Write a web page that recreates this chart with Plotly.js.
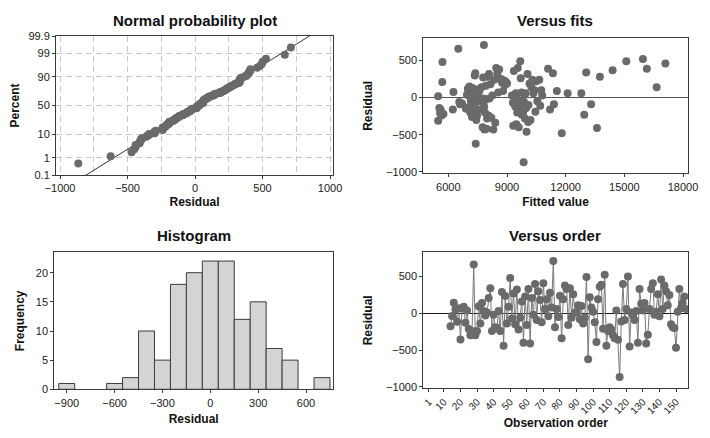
<!DOCTYPE html>
<html><head><meta charset="utf-8">
<script src="https://cdn.plot.ly/plotly-3.0.1.min.js"></script>
<style>html,body{margin:0;padding:0;background:#fff}#chart{width:710px;height:438px}</style>
</head><body><div id="chart"></div>
<script>
// ---- data ----
const firstObservation = 14;
const residuals = [-175,-35,145,55,-115,70,-355,65,90,-130,40,-215,-300,-240,665,-300,-240,95,-140,140,
30,-30,10,210,340,-240,-20,-190,-200,30,-240,290,-440,235,-140,90,480,-70,270,-150,
325,-220,-60,160,-400,230,-160,330,-410,210,-20,400,-90,300,180,-120,410,60,190,-40,
280,80,710,-190,60,-50,240,-340,190,380,330,-160,340,-60,260,10,10,110,-80,100,
-140,-60,495,-625,220,80,20,-120,-390,190,360,390,-210,525,-440,-240,-190,-220,-300,-340,
40,-360,-865,-110,400,-90,60,500,-450,10,-30,-90,30,-400,330,130,40,140,-410,-290,
60,330,410,-20,20,260,-40,460,60,380,300,110,250,-150,-190,-200,-470,20,330,70,
140,230,60];

const fittedValues = [5480,5540,5580,5620,5480,5650,5700,5690,5750,5600,
6230,6260,6510,6560,6600,6700,
6900,6950,7000,7020,7050,7080,7100,7120,7140,7150,7200,7210,7230,7250,7300,7310,7330,7350,7360,7380,7390,7400,7410,7430,7450,7470,7500,7550,7580,
7650,7700,7750,7780,7800,7820,7830,7850,7870,7900,7920,7950,7980,8000,8050,8080,8100,8150,8200,8250,8300,8350,8400,8450,8500,8550,8600,8700,8750,8800,8850,8900,8950,9000,
9250,9300,9320,9350,9400,9420,9450,9480,9500,9520,9550,9580,9600,9650,9680,9700,9720,9740,9760,9780,9820,9850,9870,9900,9920,9950,9980,10000,10050,10080,10100,10150,10200,10250,10300,10350,10400,10450,10500,10550,10650,10700,10750,10800,
11100,11200,11350,11400,11550,11800,12100,12800,13050,12950,13300,13600,13750,14400,15100,15950,16150,16650,17100];
const fitResiduals = [20,-140,-210,-190,-310,-240,480,210,-220,-160,
-160,75,660,-60,-90,-80,
-150,40,120,-130,80,150,20,-200,100,-40,10,-260,130,-10,-180,70,-100,300,-220,330,20,-620,-60,-300,110,-240,40,-160,90,
-50,140,-400,270,-10,710,-120,-430,-200,-30,160,-420,-280,280,-240,320,-10,180,-270,30,-430,240,-340,400,320,70,380,250,200,90,230,170,210,190,
30,-70,-380,360,-40,-120,60,-360,-10,-200,400,-90,-400,-150,490,260,-50,70,-230,-120,-200,-870,-60,40,-280,60,-140,-460,320,-330,-100,190,-300,140,240,60,100,-190,220,-50,240,-110,100,30,
390,-160,330,-90,90,-480,60,60,340,-230,-90,-410,280,370,490,520,390,140,460];

const histBinCenters = [-900,-600,-500,-400,-300,-200,-100,0,100,200,300,400,500,700];
const histCounts     = [1,1,2,10,5,18,20,22,22,12,15,7,5,2];

const percentTicks = [0.1,1,10,50,90,99,99.9];
const orderTicks = [1,10,20,30,40,50,60,70,80,90,100,110,120,130,140,150];

// ---- helpers ----
function invNorm(p){
  const a=[-3.969683028665376e+01,2.209460984245205e+02,-2.759285104469687e+02,1.383577518672690e+02,-3.066479806614716e+01,2.506628277459239e+00];
  const b=[-5.447609879822406e+01,1.615858368580409e+02,-1.556989798598866e+02,6.680131188771972e+01,-1.328068155288572e+01];
  const c=[-7.784894002430293e-03,-3.223964580411365e-01,-2.400758277161838e+00,-2.549671039857490e+00,4.374664141464968e+00,2.938163982698783e+00];
  const d=[7.784695709041462e-03,3.224671290700398e-01,2.445134137142996e+00,3.754408661907416e+00];
  const pl=0.02425, ph=1-pl; let q,r;
  if(p<pl){q=Math.sqrt(-2*Math.log(p));return (((((c[0]*q+c[1])*q+c[2])*q+c[3])*q+c[4])*q+c[5])/((((d[0]*q+d[1])*q+d[2])*q+d[3])*q+1);}
  if(p<=ph){q=p-0.5;r=q*q;return (((((a[0]*r+a[1])*r+a[2])*r+a[3])*r+a[4])*r+a[5])*q/(((((b[0]*r+b[1])*r+b[2])*r+b[3])*r+b[4])*r+1);}
  q=Math.sqrt(-2*Math.log(1-p));return -(((((c[0]*q+c[1])*q+c[2])*q+c[3])*q+c[4])*q+c[5])/((((d[0]*q+d[1])*q+d[2])*q+d[3])*q+1);
}

const n = residuals.length;
const sorted = residuals.slice().sort((u,v)=>u-v);
const normScores = sorted.map((_,i)=>invNorm((i+1-0.3)/(n+0.4)));
const mean = residuals.reduce((s,v)=>s+v,0)/n;
const sd = Math.sqrt(residuals.reduce((s,v)=>s+(v-mean)*(v-mean),0)/(n-1));
const zLo = invNorm(0.001), zHi = invNorm(0.999);
const lineZ = [zLo-0.5, zHi+0.5];
const lineX = lineZ.map(z=>mean+sd*z);
const observation = residuals.map((_,i)=>firstObservation+i);

// ---- styling ----
const FONT = 'Liberation Sans, Arial, sans-serif';
const tickFont = {family:FONT, size:11, color:'#1a1a1a'};
const axTitleFont = {family:FONT, size:12, color:'#111', weight:'bold'};
const ptColor = '#6a6a6a';
function ax(extra){
  return Object.assign({showline:true, mirror:true, linecolor:'#3a3a3a', linewidth:1,
    ticks:'outside', ticklen:3, tickcolor:'#3a3a3a', tickfont:tickFont,
    showgrid:false, zeroline:false, fixedrange:true}, extra);
}
const W=710, H=438;
const dx=(a,b)=>[a/W,b/W];
const dy=(top,bottom)=>[1-bottom/H,1-top/H];

const traces = [
  {type:'scatter', mode:'lines', x:lineX, y:lineZ, xaxis:'x', yaxis:'y',
   line:{color:'#333', width:1}, hoverinfo:'skip'},
  {type:'scatter', mode:'markers', x:sorted, y:normScores, xaxis:'x', yaxis:'y',
   marker:{color:ptColor, size:8}},
  {type:'scatter', mode:'markers', x:fittedValues, y:fitResiduals, xaxis:'x2', yaxis:'y2',
   marker:{color:ptColor, size:8}},
  {type:'bar', x:histBinCenters, y:histCounts, width:100, xaxis:'x3', yaxis:'y3',
   marker:{color:'#d4d4d4', line:{color:'#3c3c3c', width:1}}},
  {type:'scatter', mode:'lines+markers', x:observation, y:residuals, xaxis:'x4', yaxis:'y4',
   line:{color:'#7a7a7a', width:1}, marker:{color:ptColor, size:8}}
];

const layout = {
  width:W, height:H, margin:{l:0,r:0,t:0,b:0}, showlegend:false,
  paper_bgcolor:'#fff', plot_bgcolor:'#fff', font:{family:FONT},
  xaxis: ax({domain:dx(56,333), anchor:'y', range:[-1030,1022], tickmode:'linear', tick0:0, dtick:500,
    showgrid:true, gridcolor:'#c9c9c9', griddash:'6px,4px',
    minor:{tick0:0, dtick:250, showgrid:true, gridcolor:'#c9c9c9', griddash:'6px,4px', ticks:''},
    title:{text:'Residual', font:axTitleFont, standoff:4}}),
  yaxis: ax({domain:dy(36,175), anchor:'x', range:[zLo,zHi],
    tickmode:'array', tickvals:percentTicks.map(p=>invNorm(p/100)), ticktext:percentTicks.map(String),
    showgrid:true, gridcolor:'#c9c9c9', griddash:'6px,4px',
    title:{text:'Percent', font:axTitleFont, standoff:6}}),
  xaxis2: ax({domain:dx(423.3,687.7), anchor:'y2', range:[4720,18240], tickmode:'linear', tick0:0, dtick:3000,
    tickformat:'d', title:{text:'Fitted value', font:axTitleFont, standoff:6}}),
  yaxis2: ax({domain:dy(38.3,173.3), anchor:'x2', range:[-1020,800], tickmode:'linear', tick0:0, dtick:500,
    zeroline:true, zerolinecolor:'#555', zerolinewidth:1.5,
    title:{text:'Residual', font:axTitleFont, standoff:10}}),
  xaxis3: ax({domain:dx(54.3,333), anchor:'y3', range:[-978,769], tickmode:'linear', tick0:0, dtick:300,
    title:{text:'Residual', font:axTitleFont, standoff:7}}),
  yaxis3: ax({domain:dy(252.3,389.3), anchor:'x3', range:[0,23.5], tickmode:'linear', tick0:0, dtick:5,
    title:{text:'Frequency', font:axTitleFont, standoff:8}}),
  xaxis4: ax({domain:dx(423.3,688.3), anchor:'y4', range:[-2.4,157.4], tickmode:'array', tickvals:orderTicks,
    tickangle:-45, tickfont:{family:FONT, size:10, color:'#1a1a1a'},
    title:{text:'Observation order', font:axTitleFont, standoff:3}}),
  yaxis4: ax({domain:dy(252.3,388.3), anchor:'x4', range:[-1020,830], tickmode:'linear', tick0:0, dtick:500,
    zeroline:true, zerolinecolor:'#1a1a1a', zerolinewidth:1.5,
    title:{text:'Residual', font:axTitleFont, standoff:10}}),
  annotations: [
    ['Normal probability plot',195,20],['Versus fits',555,20],['Histogram',194,235],['Versus order',555,235]
  ].map(([t,x,y])=>({text:t, xref:'paper', yref:'paper', x:x/W, y:1-y/H, xanchor:'center', yanchor:'middle',
     showarrow:false, font:{family:FONT, size:15, color:'#111', weight:'bold'}}))
};

Plotly.newPlot('chart', traces, layout, {staticPlot:true, displayModeBar:false});
</script>
</body></html>
